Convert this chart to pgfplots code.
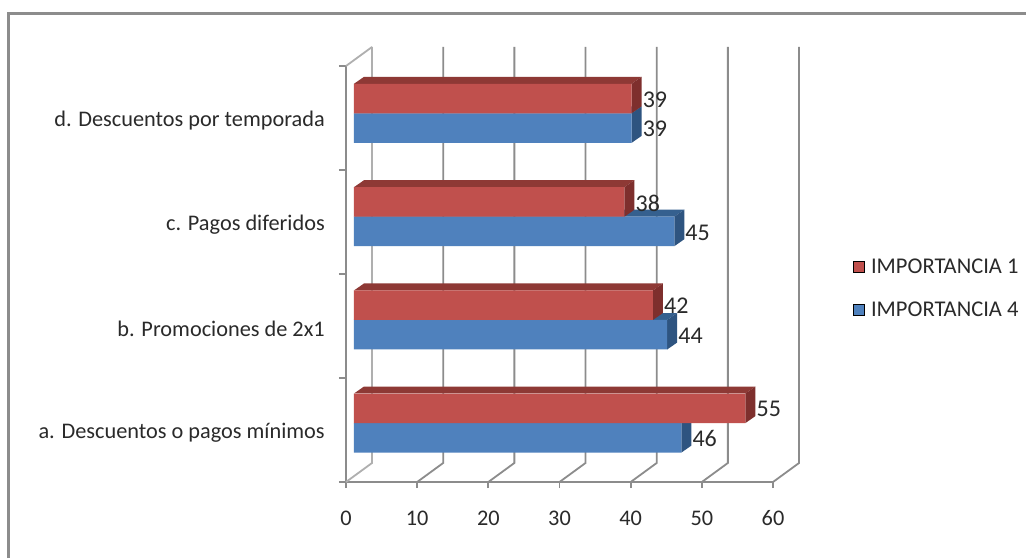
\documentclass[border=0pt]{standalone}
\usepackage{fontspec}
\setmainfont{Carlito}
\usepackage{pgfplots}
\usepackage{pgfplotstable}
\pgfplotsset{compat=1.18}

\definecolor{redface}{HTML}{C0504D}
\definecolor{redtop}{HTML}{8E3935}
\definecolor{redside}{HTML}{7E2F2D}
\definecolor{blueface}{HTML}{4F81BD}
\definecolor{bluetop}{HTML}{35608F}
\definecolor{blueside}{HTML}{2E5480}
\definecolor{wall}{HTML}{8C8C8C}
\definecolor{ink}{HTML}{2A2A2A}

% value, vertical centre of the bar
\pgfplotstableread{
v y
55 0.709
42 1.700
38 2.693
39 3.687
}\importanciauno
\pgfplotstableread{
v y
46 0.425
44 1.416
45 2.409
39 3.403
}\importanciacuatro

% Top and end of a bar: value, centre, top colour, side colour
\newcommand{\bardepth}[4]{%
  \pgfmathsetmacro{\ylo}{#2-0.142}%
  \pgfmathsetmacro{\yhi}{#2+0.142}%
  \pgfmathsetmacro{\xb}{#1+1.405}%
  \pgfmathsetmacro{\ybhi}{\yhi+0.067}%
  \pgfmathsetmacro{\yblo}{\ylo+0.067}%
  \edef\drawdepth{%
    \noexpand\addplot[forget plot,fill=#3,draw=none,xshift=8pt]
      coordinates {(0,\yhi) (#1,\yhi) (\xb,\ybhi) (1.405,\ybhi)} --cycle;
    \noexpand\addplot[forget plot,fill=#4,draw=none,xshift=8pt]
      coordinates {(#1,\ylo) (#1,\yhi) (\xb,\ybhi) (\xb,\yblo)} --cycle;
  }\drawdepth
}

\begin{document}
\begin{tikzpicture}
\useasboundingbox (-346pt,-76pt) rectangle (680pt,482pt);
\fill[white] (-346pt,-76pt) rectangle (680pt,482pt);
% outer frame of the chart area
\draw[wall,line width=3pt] (-337pt,-76pt) -- (-337pt,468pt) -- (680pt,468pt);
\begin{axis}[
  at={(0pt,0pt)}, anchor=origin,
  x=7.117pt, y=104pt,
  xmin=0, xmax=60, ymin=0, ymax=4,
  clip=false,
  axis x line*=bottom, axis y line*=left,
  axis line style={wall,line width=1.8pt,-},
  xtick={0,10,...,60},
  ytick={0.5,1.5,2.5,3.5},
  yticklabels={a. Descuentos o pagos mínimos,b. Promociones de 2x1,c. Pagos diferidos,d. Descuentos por temporada},
  minor ytick={0,1,2,3,4},
  tick align=outside,
  major tick length=6pt, minor tick length=7pt,
  every tick/.style={wall,line width=1.8pt},
  major y tick style={draw=none},
  /pgf/number format/assume math mode=true,
  tick label style={font=\fontsize{22.3}{26}\selectfont,text=ink},
  yticklabel style={inner sep=0pt,anchor=east,xshift=-15pt,yshift=-3pt},
  xticklabel style={inner sep=0pt,anchor=center,yshift=-30pt},
  legend style={at={(1.187,0.465)},anchor=west,draw=none,fill=none,inner sep=0pt,
    font=\fontsize{22.5}{26}\selectfont,text=ink,
    /tikz/every odd column/.style={column sep=5pt},
    row sep=23pt},
  legend cell align=left,
]
% gridlines: floor diagonal, then up the back wall
\addplot[forget plot,draw=wall!70,line width=1.8pt] coordinates {(0,4) (3.66,4.183)};
\addplot[forget plot,draw=wall!70,line width=1.8pt] coordinates {(0,0) (3.66,0.183) (3.66,4.183)};
\addplot[forget plot,draw=wall,line width=1.8pt] coordinates {(10,0) (13.66,0.183) (13.66,4.183)};
\addplot[forget plot,draw=wall,line width=1.8pt] coordinates {(20,0) (23.66,0.183) (23.66,4.183)};
\addplot[forget plot,draw=wall,line width=1.8pt] coordinates {(30,0) (33.66,0.183) (33.66,4.183)};
\addplot[forget plot,draw=wall,line width=1.8pt] coordinates {(40,0) (43.66,0.183) (43.66,4.183)};
\addplot[forget plot,draw=wall,line width=1.8pt] coordinates {(50,0) (53.66,0.183) (53.66,4.183)};
\addplot[forget plot,draw=wall,line width=1.8pt] coordinates {(60,0) (63.66,0.183) (63.66,4.183)};

% value labels of the red series sit beneath the blue bars
\addplot[forget plot,only marks,mark=none,draw=none,xshift=8pt,point meta=x,
  nodes near coords={\pgfmathprintnumber{\pgfplotspointmeta}},
  every node near coord/.append style={anchor=west,inner sep=0pt,xshift=11pt,yshift=-1pt,
    font=\fontsize{24}{26}\selectfont,text=ink}]
  table[x=v,y=y] {\importanciauno};

% IMPORTANCIA 4
\bardepth{46}{0.425}{bluetop}{blueside}
\bardepth{44}{1.416}{bluetop}{blueside}
\bardepth{45}{2.409}{bluetop}{blueside}
\bardepth{39}{3.403}{bluetop}{blueside}
\addplot[forget plot,xbar,bar width=29.5pt,bar shift=0pt,fill=blueface,draw=none,xshift=8pt,point meta=x,
  nodes near coords={\pgfmathprintnumber{\pgfplotspointmeta}},
  every node near coord/.append style={anchor=west,inner sep=0pt,xshift=11pt,yshift=-1pt,
    font=\fontsize{24}{26}\selectfont,text=ink}]
  table[x=v,y=y] {\importanciacuatro};

% IMPORTANCIA 1
\bardepth{55}{0.709}{redtop}{redside}
\bardepth{42}{1.700}{redtop}{redside}
\bardepth{38}{2.693}{redtop}{redside}
\bardepth{39}{3.687}{redtop}{redside}
\addplot[forget plot,xbar,bar width=29.5pt,bar shift=0pt,fill=redface,draw=none,xshift=8pt]
  table[x=v,y=y] {\importanciauno};

\addlegendimage{only marks,mark=square*,mark size=5.5pt,mark options={fill=redface,draw=none}}
\addlegendentry{IMPORTANCIA 1}
\addlegendimage{only marks,mark=square*,mark size=5.5pt,mark options={fill=blueface,draw=none}}
\addlegendentry{IMPORTANCIA 4}
\end{axis}
\end{tikzpicture}
\end{document}
